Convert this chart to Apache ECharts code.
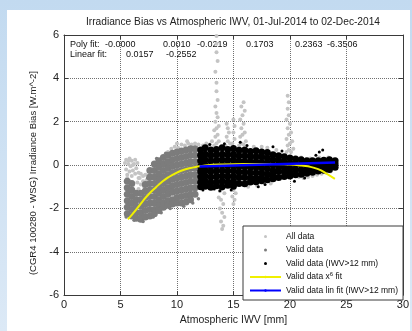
<!DOCTYPE html>
<html>
<head>
<meta charset="utf-8">
<script src="https://cdn.jsdelivr.net/npm/echarts@6/dist/echarts.min.js"></script>
<style>
  html, body { margin: 0; padding: 0; }
  #frame { position: absolute; left: 0; top: 0; width: 412px; height: 331px;
           background: linear-gradient(180deg, #c2daf0 0%, #dce9f6 100%); }
  #sheet { position: absolute; left: 7px; top: 10px; width: 403px; height: 321px; background: #fff; }
  #chart { position: absolute; left: 0; top: 0; width: 412px; height: 331px; }
</style>
</head>
<body>
<div id="frame"></div>
<div id="sheet"></div>
<div id="chart"></div>
<script>
// Axis ticks
const xTicks = [0, 5, 10, 15, 20, 25, 30];
const yTicks = [-6, -4, -2, 0, 2, 4, 6];

// Text block with the fit coefficients
const polyCoefs = ['-0.0000', '0.0010', '-0.0219', '0.1703', '0.2363', '-6.3506'];
const linCoefs = ['0.0157', '-0.2552'];

// All data (light grey)
const allData = [
  // blob left of the valid cloud
  [5.4,0.1],[5.5,-0.2],[5.5,0.25],[5.6,-0.45],[5.7,0.05],[5.8,0.3],[5.8,-0.3],[5.9,-0.05],[6.0,0.2],[6.0,-0.5],
  [6.1,-0.25],[6.2,0.05],[6.3,-0.4],[6.3,0.25],[6.4,-0.15],[6.5,0.1],[6.6,-0.35],[6.6,-0.6],
  [6.5,-0.8],[6.6,-1.1],[6.7,-0.6],[6.8,-0.9],[6.9,-1.25],[7.0,-0.5],[7.0,-0.75],[7.1,-1.0],[7.2,-0.45],
  [7.3,-0.7],[7.3,-1.2],[6.8,-0.4],[5.6,-0.6],[6.1,0.0],[5.7,0.2],
  // rim above the valid cloud
  [9.2,0.6],[9.5,0.75],[9.8,0.85],[10.1,0.8],[10.4,0.95],[10.7,0.9],[11.0,1.0],[11.3,0.95],[11.6,1.0],
  [11.9,0.95],[10.0,1.0],[10.9,1.1],[12.3,0.9],[12.6,1.0],[12.9,0.95],[13.1,1.1],
  // streak near 13.5 mm
  [13.3,0.9],[13.5,1.0],[13.7,1.1],[13.4,1.3],[13.6,1.4],[13.3,1.6],[13.5,1.7],[13.7,1.8],[13.4,2.0],[13.6,2.2],
  [13.5,2.4],[13.4,2.7],[13.6,3.0],[13.5,3.4],[13.5,3.8],[13.4,4.3],[13.6,4.8],[13.5,5.2],[13.5,5.6],[13.5,5.95],
  // streaks near 14.5 to 16 mm
  [14.3,0.9],[14.5,1.1],[14.7,1.0],[14.4,1.3],[14.6,1.5],[14.5,1.7],[14.4,1.9],
  [14.9,1.0],[15.1,1.2],[15.0,1.5],[15.1,1.8],[15.0,2.1],
  [15.5,0.9],[15.7,1.0],[15.9,0.95],[16.1,1.1],[15.6,1.3],[15.8,1.4],[16.0,1.5],[15.7,1.7],[15.9,1.9],
  [15.6,2.1],[15.8,2.3],[16.0,2.5],[15.7,2.7],[15.9,2.9],
  // streak near 20 mm
  [19.7,0.6],[19.9,0.7],[20.1,0.6],[20.3,0.75],[19.8,0.9],[20.0,1.0],[20.2,1.1],[19.7,1.2],[19.9,1.4],
  [20.1,1.5],[19.8,1.7],[20.0,1.9],[19.7,2.1],[19.9,2.3],[19.8,2.6],[19.9,2.9],[19.8,3.2],
  // below the cloud
  [13.6,-1.0],[13.8,-1.2],[14.0,-1.1],[14.2,-1.3],[13.7,-1.5],[13.9,-1.6],[14.1,-1.8],[13.8,-2.0],
  [14.0,-2.2],[14.2,-2.4],[13.9,-2.6],[14.1,-2.8],[14.0,-2.95],
  [14.8,-1.0],[15.0,-1.15],[15.2,-1.3],[14.9,-1.45],[15.1,-1.6],[15.0,-1.8],
  // around the high-IWV tail
  [20.8,-0.55],[21.2,-0.6],[21.6,-0.55],[22.0,-0.5],[22.4,-0.45],[22.8,-0.4],[23.2,-0.35],[23.6,-0.3],
  [21.0,0.35],[21.8,0.3],[22.6,0.35],[23.4,0.35],
  [17.5,0.85],[18.0,0.8],[18.8,0.7],[16.8,0.85],[17.1,-0.95],[18.3,-0.85],[16.3,-1.0]
];

// Valid data (dark grey): columns of points, x with its y values
const validCols = [
  [5.6, [-0.75,-1.05,-1.35,-1.65,-1.95,-2.25]],
  [6.0, [-0.85,-1.15,-1.45,-1.75,-2.05,-2.35]],
  [6.4, [-1.3,-1.6,-1.9,-2.2,-2.45]],
  [6.8, [-1.3,-1.6,-1.9,-2.2,-2.5]],
  [7.2, [-0.9,-1.2,-1.5,-1.8,-2.1,-2.4]],
  [7.6, [-0.25,-0.55,-0.85,-1.15,-1.45,-1.75,-2.05,-2.35]],
  [8.0, [0.05,-0.25,-0.55,-0.85,-1.15,-1.45,-1.75,-2.05,-2.25]],
  [8.4, [0.2,-0.1,-0.4,-0.7,-1.0,-1.3,-1.6,-1.9,-2.1]],
  [8.8, [0.35,0.05,-0.25,-0.55,-0.85,-1.15,-1.45,-1.75,-1.95]],
  [9.2, [0.45,0.15,-0.15,-0.45,-0.75,-1.05,-1.35,-1.65,-1.85]],
  [9.6, [0.55,0.25,-0.05,-0.35,-0.65,-0.95,-1.25,-1.6,-1.8]],
  [10.0, [0.6,0.3,0.0,-0.3,-0.6,-0.9,-1.2,-1.5,-1.75]],
  [10.4, [0.65,0.35,0.05,-0.25,-0.55,-0.85,-1.15,-1.45,-1.75]],
  [10.8, [0.7,0.4,0.1,-0.2,-0.5,-0.8,-1.1,-1.4,-1.7]],
  [11.2, [0.75,0.45,0.15,-0.15,-0.45,-0.75,-1.05,-1.35,-1.6]],
  [11.6, [0.75,0.45,0.15,-0.15,-0.45,-0.75,-1.05,-1.35]]
];
// Sparse dark grey points along the cloud edge
const validStray = [
  [5.5,-2.4],[6.2,-2.55],[7.0,-2.6],[7.9,-2.4],[8.6,-2.2],[9.4,-2.0],[10.6,-1.9],[11.4,-1.75],
  [7.4,-0.6],[8.2,0.3],[9.0,0.55],[11.9,-1.55]
];

// Valid data with IWV > 12 mm (black): columns of points
const validHighCols = [
  [12.1, [0.7,0.45,0.2,-0.05,-0.3,-0.55,-0.8,-1.0]],
  [12.5, [0.8,0.5,0.25,0,-0.25,-0.5,-0.75,-0.98]],
  [13.0, [0.7,0.45,0.2,-0.05,-0.3,-0.55,-0.8,-1.02]],
  [13.5, [0.72,0.47,0.22,-0.03,-0.28,-0.53,-0.78,-0.95]],
  [14.0, [0.8,0.5,0.25,0,-0.25,-0.5,-0.75,-1.0]],
  [14.5, [0.72,0.47,0.22,-0.03,-0.28,-0.53,-0.78,-0.93]],
  [15.0, [0.76,0.5,0.25,0,-0.25,-0.5,-0.75,-0.98]],
  [15.5, [0.68,0.43,0.18,-0.07,-0.32,-0.57,-0.85]],
  [16.0, [0.7,0.43,0.18,-0.07,-0.32,-0.57,-0.86]],
  [16.5, [0.63,0.4,0.15,-0.1,-0.35,-0.6,-0.78]],
  [17.0, [0.66,0.4,0.15,-0.1,-0.35,-0.6,-0.77]],
  [17.5, [0.6,0.38,0.13,-0.12,-0.37,-0.6,-0.73]],
  [18.0, [0.58,0.33,0.08,-0.17,-0.42,-0.68]],
  [18.5, [0.48,0.25,0.0,-0.25,-0.45,-0.63]],
  [19.0, [0.43,0.2,-0.05,-0.3,-0.58]],
  [19.5, [0.38,0.15,-0.1,-0.3,-0.53]],
  [20.0, [0.33,0.1,-0.15,-0.35,-0.5]],
  [20.5, [0.28,0.05,-0.2,-0.45]],
  [21.0, [0.25,0.02,-0.22,-0.42]],
  [21.5, [0.2,0.0,-0.2,-0.38]],
  [22.0, [0.2,0.0,-0.18,-0.33]],
  [22.5, [0.2,0.02,-0.15,-0.28]],
  [23.0, [0.22,0.05,-0.1,-0.24]],
  [23.5, [0.24,0.08,-0.06,-0.2]],
  [24.0, [0.2,0.05,-0.1]]
];
// Sparse black points around the cloud edge
const validHighStray = [
  [22.3,0.45],[22.6,0.6],[22.9,0.7],[15.6,1.05],[18.5,0.85],[12.9,0.95],[14.8,-1.15],[17.2,-1.0],[20.4,-0.75],
  [12.3,-1.15],[13.3,-1.1],[16.2,0.9],[19.3,0.65],[21.3,-0.6],[14.2,0.98],[17.8,-0.9],[13.8,-1.18]
];

// Fitted curves
const polyFit = [
  [5.66,-2.51],[6.39,-2.06],[6.98,-1.66],[7.56,-1.31],[8.15,-1.02],[8.74,-0.75],[9.32,-0.54],
  [9.91,-0.37],[10.5,-0.24],[11.08,-0.15],[11.67,-0.09],[12.5,-0.02],[14,0.03],[16,0.05],
  [18,0.05],[20,0.02],[21,-0.02],[21.6,-0.06],[22.5,-0.19],[23.2,-0.38],[23.98,-0.64]
];
const linFit = [[12, -0.067], [24, 0.122]];

const flatten = cols => cols.flatMap(([x, ys]) => ys.map(y => [x, y]));

const FONT = 'Liberation Sans, Arial, sans-serif';
const chart = echarts.init(document.getElementById('chart'), null, { renderer: 'canvas' });

const frameLine = { show: true, onZero: false, lineStyle: { color: '#3a3a3a', width: 1 } };
const tick = { show: true, inside: true, length: 4, lineStyle: { color: '#3a3a3a' } };
const gridLine = { show: true, lineStyle: { color: '#707070', type: 'dotted', width: 1 } };
const labelStyle = { color: '#222', fontFamily: FONT, fontSize: 11 };
const noteFont = '9px ' + FONT;

chart.setOption({
  backgroundColor: 'transparent',
  animation: false,
  grid: { left: 64, right: 6, top: 35, bottom: 28 },
  xAxis: [
    {
      type: 'value', min: 0, max: 30, interval: 5, position: 'bottom',
      axisLine: frameLine, axisTick: tick, splitLine: gridLine,
      axisLabel: Object.assign({ margin: 4, formatter: v => xTicks.includes(v) ? String(v) : '' }, labelStyle),
      name: 'Atmospheric IWV [mm]', nameLocation: 'middle', nameGap: 16,
      nameTextStyle: Object.assign({}, labelStyle, { fontSize: 10.5 })
    },
    {
      type: 'value', min: 0, max: 30, interval: 5, position: 'top',
      axisLine: frameLine, axisTick: tick, splitLine: { show: false }, axisLabel: { show: false }
    }
  ],
  yAxis: [
    {
      type: 'value', min: -6, max: 6, interval: 2, position: 'left',
      axisLine: frameLine, axisTick: tick, splitLine: gridLine,
      axisLabel: Object.assign({ margin: 5, formatter: v => yTicks.includes(v) ? String(v) : '' }, labelStyle),
      name: '(CGR4 100280 - WSG) Irradiance Bias [W.m^-2]', nameLocation: 'middle', nameGap: 22,
      nameTextStyle: Object.assign({}, labelStyle, { fontSize: 9.5, padding: [0, 16, 0, 0] })
    },
    {
      type: 'value', min: -6, max: 6, interval: 2, position: 'right',
      axisLine: frameLine, axisTick: tick, splitLine: { show: false }, axisLabel: { show: false }
    }
  ],
  legend: {
    orient: 'vertical', left: 243, top: 226,
    padding: [5, 5, 4, 6],
    backgroundColor: '#fff', borderColor: '#3a3a3a', borderWidth: 1, borderRadius: 0,
    itemWidth: 31, itemHeight: 3, itemGap: 2.5,
    textStyle: {
      color: '#111', fontFamily: FONT, fontSize: 8.5, lineHeight: 11,
      rich: { sup: { fontSize: 6, verticalAlign: 'top', lineHeight: 6, padding: [0, 0, 4, 0], fontFamily: FONT, color: '#111' } }
    },
    formatter: name => name === 'Valid data x^6 fit' ? 'Valid data x{sup|6} fit' : name,
    data: ['All data', 'Valid data', 'Valid data (IWV>12 mm)', 'Valid data x^6 fit', 'Valid data lin fit (IWV>12 mm)']
  },
  graphic: [
    { type: 'text', x: 233, y: 17, style: { text: 'Irradiance Bias vs Atmospheric IWV, 01-Jul-2014 to 02-Dec-2014', textAlign: 'center', fill: '#222', font: '10.2px ' + FONT } },
    { type: 'text', x: 70, y: 40, style: { text: 'Poly fit:', fill: '#111', font: noteFont } },
    { type: 'text', x: 70, y: 50, style: { text: 'Linear fit:', fill: '#111', font: noteFont } },
    ...polyCoefs.map((c, i) => ({ type: 'text', x: [105, 163, 197, 246, 295, 327][i], y: 40, style: { text: c, fill: '#111', font: noteFont } })),
    ...linCoefs.map((c, i) => ({ type: 'text', x: [126, 166][i], y: 50, style: { text: c, fill: '#111', font: noteFont } }))
  ],
  series: [
    { name: 'All data', type: 'scatter', data: allData, symbol: 'circle', symbolSize: 4,
      itemStyle: { color: '#c4c4c4', opacity: 1 }, z: 2 },
    { name: 'Valid data', type: 'scatter', data: flatten(validCols), symbol: 'circle', symbolSize: 7,
      itemStyle: { color: '#7c7c7c', opacity: 1 }, z: 3 },
    { name: 'Valid data', type: 'scatter', data: validStray, symbol: 'circle', symbolSize: 3.5,
      itemStyle: { color: '#7c7c7c', opacity: 1 }, z: 3 },
    { name: 'Valid data (IWV>12 mm)', type: 'scatter', data: flatten(validHighCols), symbol: 'circle', symbolSize: 7,
      itemStyle: { color: '#000', opacity: 1 }, z: 4 },
    { name: 'Valid data (IWV>12 mm)', type: 'scatter', data: validHighStray, symbol: 'circle', symbolSize: 3,
      itemStyle: { color: '#000', opacity: 1 }, z: 4 },
    { name: 'Valid data x^6 fit', type: 'line', data: polyFit, smooth: true, symbol: 'none',
      lineStyle: { color: '#f0f000', width: 2 }, itemStyle: { color: '#f0f000' }, z: 5 },
    { name: 'Valid data lin fit (IWV>12 mm)', type: 'line', data: linFit, symbol: 'none',
      lineStyle: { color: '#0000ff', width: 2.5 }, itemStyle: { color: '#0000ff' }, z: 6 }
  ]
});
</script>
</body>
</html>
